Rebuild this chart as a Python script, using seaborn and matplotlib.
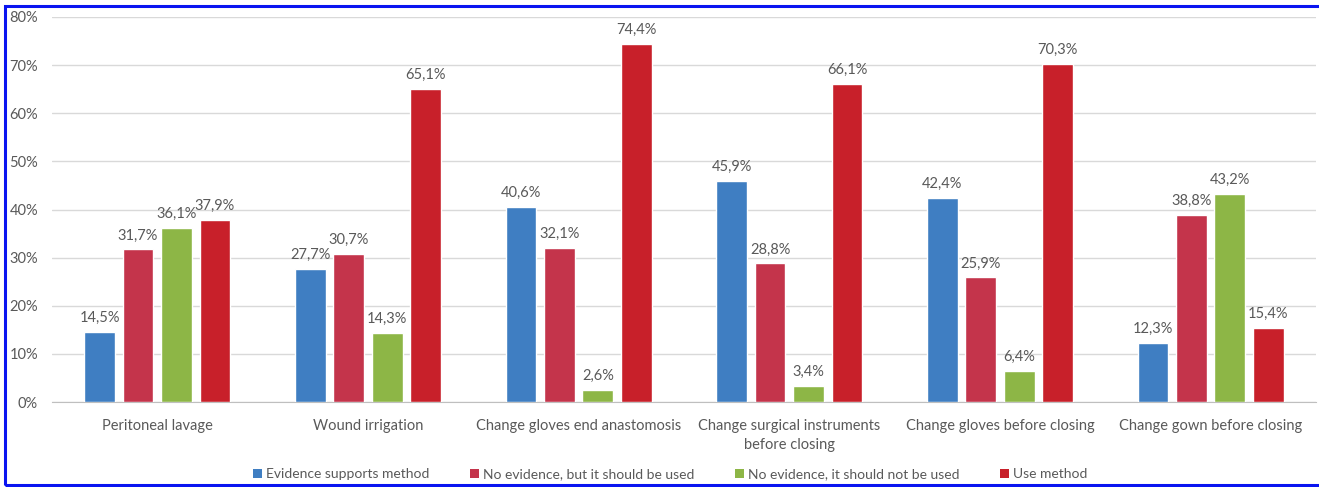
import numpy as np
import pandas as pd
import matplotlib.pyplot as plt
import seaborn as sns
from matplotlib.patches import Rectangle, Patch

# Data
categories = [
    "Peritoneal lavage",
    "Wound irrigation",
    "Change gloves end anastomosis",
    "Change surgical instruments\nbefore closing",
    "Change gloves before closing",
    "Change gown before closing",
]
series_names = [
    "Evidence supports method",
    "No evidence, but it should be used",
    "No evidence, it should not be used",
    "Use method",
]
evidence_supports = [14.5, 27.7, 40.6, 45.9, 42.4, 12.3]
no_evidence_use = [31.7, 30.7, 32.1, 28.8, 25.9, 38.8]
no_evidence_not_use = [36.1, 14.3, 2.6, 3.4, 6.4, 43.2]
use_method = [37.9, 65.1, 74.4, 66.1, 70.3, 15.4]
colors = ["#3F7EC2", "#C4344B", "#8DB646", "#C8202A"]
yticks = [0, 10, 20, 30, 40, 50, 60, 70, 80]

values = [evidence_supports, no_evidence_use, no_evidence_not_use, use_method]
rows = []
for name, vals in zip(series_names, values):
    for cat, v in zip(categories, vals):
        rows.append({"category": cat, "series": name, "value": v})
df = pd.DataFrame(rows)

sns.set_style("white")
plt.rcParams['font.family'] = ['Lato', 'DejaVu Sans']
text_color = "#595959"

fig = plt.figure(figsize=(13.19, 4.87), dpi=100)
ax = fig.add_axes([0.0394, 0.1745, 0.9583, 0.7906])

sns.barplot(data=df, x="category", y="value", hue="series", order=categories,
            hue_order=series_names, palette=colors, width=0.73, gap=0.2,
            errorbar=None, saturation=1, ax=ax, legend=False, zorder=3)

# value labels with comma decimals
for container, vals in zip(ax.containers, values):
    labels = [f"{v:.1f}%".replace(".", ",") for v in vals]
    ax.bar_label(container, labels=labels, padding=5, fontsize=10.5, color=text_color)

ax.set_ylim(0, 80)
ax.set_yticks(yticks)
ax.set_yticklabels([f"{t}%" for t in yticks])
ax.set_xlabel("")
ax.set_ylabel("")
ax.grid(axis="y", color="#D9D9D9", lw=1, zorder=0)
ax.set_axisbelow(True)
for side in ["top", "right", "left"]:
    ax.spines[side].set_visible(False)
ax.spines["bottom"].set_color("#BFBFBF")
ax.tick_params(axis="both", length=0, labelsize=10.5, colors=text_color)
ax.tick_params(axis="x", pad=12)
ax.tick_params(axis="y", pad=10)
for lbl in ax.get_xticklabels():
    lbl.set_linespacing(1.45)

handles = [Patch(facecolor=c, edgecolor="none") for c in colors]
fig.legend(handles, series_names, loc="center", bbox_to_anchor=(0.508, 0.026),
           ncol=4, frameon=False, fontsize=10, handlelength=0.65, handleheight=0.65,
           handletextpad=0.3, columnspacing=2.9, labelcolor=text_color)

# blue frame around the figure
fig.patches.append(Rectangle((5 / 1319, 2 / 487), 1.01, 1 - 8 / 487,
                             transform=fig.transFigure, fill=False,
                             edgecolor="#0A14F0", lw=2.2, clip_on=False))

fig.savefig("out.png", dpi=100)
